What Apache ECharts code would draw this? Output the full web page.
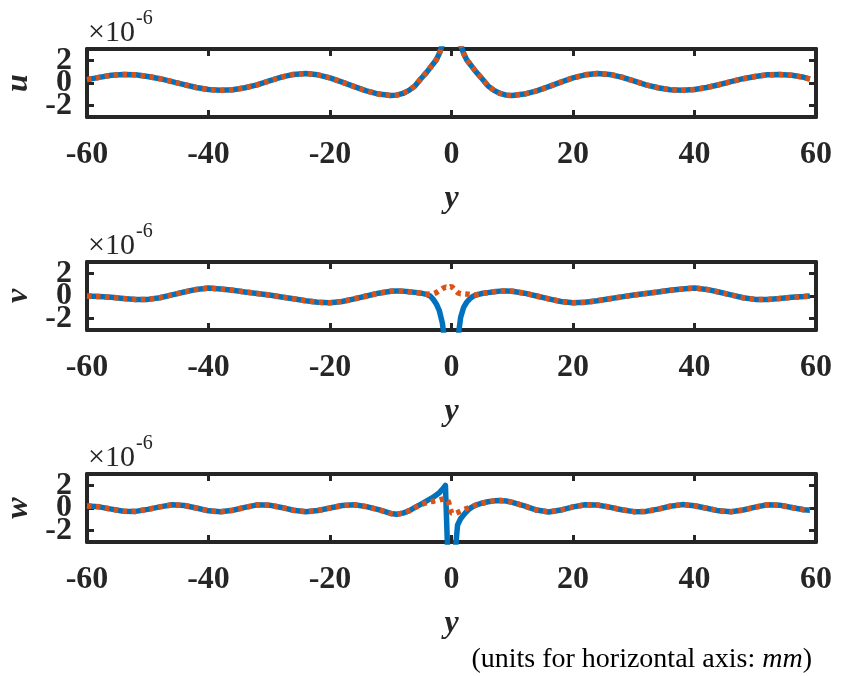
<!DOCTYPE html>
<html>
<head>
<meta charset="utf-8">
<script src="https://cdn.jsdelivr.net/npm/echarts@6/dist/echarts.min.js"></script>
<style>
  html, body { margin: 0; padding: 0; background: #ffffff; }
  #chart { width: 848px; height: 676px; }
</style>
</head>
<body>
<div id="chart"></div>
<script>
// Sample positions along y (mm), shared by the u, v and w profiles.
const yMm = [
  -60, -58, -56, -54, -52, -50, -48, -46, -44, -42, -40, -38, -36, -34, -32, -30, -28, -26, -24, -22,
  -20, -18, -16, -14, -12, -10, -9, -8, -7, -6, -5, -4, -3.5, -3, -2.5, -2, -1.5, -1, -0.5, 0,
  0.5, 1, 1.5, 2, 2.5, 3, 3.5, 4, 5, 6, 7, 8, 9, 10, 12, 14, 16, 18, 20, 22,
  24, 26, 28, 30, 32, 34, 36, 38, 40, 42, 44, 46, 48, 50, 52, 54, 56, 58, 59
];

// Displacements in units of 1e-6 (null = singular point at the source).
const uSolid = [
  0.30, 0.50, 0.68, 0.75, 0.72, 0.58, 0.38, 0.12, -0.15, -0.40, -0.58, -0.65, -0.60, -0.42, -0.16, 0.18, 0.52, 0.76, 0.83, 0.72,
  0.45, 0.08, -0.32, -0.70, -0.98, -1.10, -1.07, -0.92, -0.65, -0.25, 0.40, 1.00, 1.35, 1.70, 2.05, 2.60, 3.40, 5.50, 9.00, null,
  9.00, 5.50, 3.40, 2.60, 2.05, 1.70, 1.35, 1.00, 0.40, -0.25, -0.65, -0.92, -1.07, -1.10, -0.98, -0.70, -0.32, 0.08, 0.45, 0.72,
  0.83, 0.76, 0.52, 0.18, -0.16, -0.42, -0.60, -0.65, -0.58, -0.40, -0.15, 0.12, 0.38, 0.58, 0.72, 0.75, 0.68, 0.50, 0.35
];
const uDotted = [
  0.30, 0.50, 0.68, 0.75, 0.72, 0.58, 0.38, 0.12, -0.15, -0.40, -0.58, -0.65, -0.60, -0.42, -0.16, 0.18, 0.52, 0.76, 0.83, 0.72,
  0.45, 0.08, -0.32, -0.70, -0.98, -1.10, -1.07, -0.92, -0.65, -0.25, 0.40, 1.00, 1.35, 1.70, 2.05, 2.60, 3.40, 5.50, 9.00, null,
  9.00, 5.50, 3.40, 2.60, 2.05, 1.70, 1.35, 1.00, 0.40, -0.25, -0.65, -0.92, -1.07, -1.10, -0.98, -0.70, -0.32, 0.08, 0.45, 0.72,
  0.83, 0.76, 0.52, 0.18, -0.16, -0.42, -0.60, -0.65, -0.58, -0.40, -0.15, 0.12, 0.38, 0.58, 0.72, 0.75, 0.68, 0.50, 0.35
];

const vSolid = [
  0.00, -0.05, -0.12, -0.22, -0.30, -0.30, -0.15, 0.10, 0.35, 0.58, 0.70, 0.62, 0.50, 0.36, 0.22, 0.08, -0.08, -0.25, -0.42, -0.55,
  -0.60, -0.48, -0.25, 0.00, 0.25, 0.42, 0.45, 0.43, 0.38, 0.32, 0.25, 0.12, 0.00, -0.30, -0.70, -1.30, -2.40, -4.50, -8.00, null,
  -8.00, -4.00, -1.90, -1.00, -0.55, -0.25, -0.05, 0.08, 0.22, 0.30, 0.38, 0.43, 0.45, 0.42, 0.25, 0.00, -0.25, -0.48, -0.60, -0.55,
  -0.42, -0.25, -0.08, 0.08, 0.22, 0.36, 0.50, 0.62, 0.70, 0.58, 0.35, 0.10, -0.15, -0.30, -0.30, -0.22, -0.12, -0.05, 0.00
];
const vDotted = [
  0.00, -0.05, -0.12, -0.22, -0.30, -0.30, -0.15, 0.10, 0.35, 0.58, 0.70, 0.62, 0.50, 0.36, 0.22, 0.08, -0.08, -0.25, -0.42, -0.55,
  -0.60, -0.48, -0.25, 0.00, 0.25, 0.42, 0.45, 0.43, 0.38, 0.32, 0.25, 0.15, 0.18, 0.20, 0.30, 0.48, 0.65, 0.78, 0.70, 0.85,
  0.55, 0.30, 0.20, 0.20, 0.17, 0.15, 0.12, 0.10, 0.22, 0.30, 0.38, 0.43, 0.45, 0.42, 0.25, 0.00, -0.25, -0.48, -0.60, -0.55,
  -0.42, -0.25, -0.08, 0.08, 0.22, 0.36, 0.50, 0.62, 0.70, 0.58, 0.35, 0.10, -0.15, -0.30, -0.30, -0.22, -0.12, -0.05, 0.00
];

const wSolid = [
  0.18, 0.10, -0.10, -0.28, -0.30, -0.12, 0.10, 0.28, 0.22, 0.00, -0.25, -0.33, -0.20, 0.05, 0.28, 0.25, 0.05, -0.20, -0.33, -0.22,
  0.00, 0.22, 0.28, 0.12, -0.15, -0.48, -0.55, -0.45, -0.25, 0.05, 0.35, 0.65, 0.80, 0.95, 1.15, 1.35, 1.65, 2.00, -6.00, null,
  -4.50, -1.50, -0.95, -0.60, -0.30, -0.05, 0.12, 0.25, 0.42, 0.55, 0.63, 0.66, 0.62, 0.50, 0.18, -0.18, -0.35, -0.18, 0.10, 0.28,
  0.26, 0.08, -0.15, -0.32, -0.30, -0.10, 0.15, 0.30, 0.20, -0.02, -0.25, -0.33, -0.18, 0.08, 0.28, 0.25, 0.05, -0.15, -0.20
];
const wDotted = [
  0.18, 0.10, -0.10, -0.28, -0.30, -0.12, 0.10, 0.28, 0.22, 0.00, -0.25, -0.33, -0.20, 0.05, 0.28, 0.25, 0.05, -0.20, -0.33, -0.22,
  0.00, 0.22, 0.28, 0.12, -0.15, -0.48, -0.55, -0.45, -0.25, 0.05, 0.30, 0.50, 0.55, 0.60, 0.65, 0.70, 0.78, 0.82, 0.55, -0.45,
  -0.50, -0.40, -0.28, -0.15, -0.05, 0.05, 0.15, 0.25, 0.42, 0.55, 0.63, 0.66, 0.62, 0.50, 0.18, -0.18, -0.35, -0.18, 0.10, 0.28,
  0.26, 0.08, -0.15, -0.32, -0.30, -0.10, 0.15, 0.30, 0.20, -0.02, -0.25, -0.33, -0.18, 0.08, 0.28, 0.25, 0.05, -0.15, -0.20
];

// Axis ticks and labels
const xTickStep = 20;
const yTickValues = [-2, 0, 2];
const yOuterLabels = [-2, 2];
const yCentreLabel = [0];
const panelNames = ['u', 'v', 'w'];
const xName = 'y';
const scaleBase = '\u00d710';
const scaleExp = '-6';
const unitsPrefix = '(units for horizontal axis: ';
const unitsName = 'mm';
const unitsSuffix = ')';

const profiles = [
  { solid: uSolid, dotted: uDotted },
  { solid: vSolid, dotted: vDotted },
  { solid: wSolid, dotted: wDotted }
];

// Styling
const FONT = '"Liberation Serif", "Times New Roman", serif';
const INK = '#262626';
const BLUE = '#0072BD';
const ORANGE = '#D95319';
const panelTops = [49, 262, 474];
const gridLeft = 87, gridWidth = 729, gridHeight = 68;

function pairs(values) {
  return yMm.map((x, i) => [x, values[i]]);
}

const grids = [], xAxes = [], yAxes = [], series = [], graphics = [];
const frameLine = { color: INK, width: 4 };
const innerTick = { show: true, inside: true, length: 7, lineStyle: { color: INK, width: 3 } };
const tickFont = { fontFamily: FONT, fontWeight: 'bold', fontSize: 32, color: INK };
const nameFont = { fontFamily: FONT, fontWeight: 'bold', fontStyle: 'italic', fontSize: 32, color: INK };

profiles.forEach((p, i) => {
  grids.push({
    left: gridLeft, top: panelTops[i], width: gridWidth, height: gridHeight,
    containLabel: false, outerBoundsMode: 'none'
  });
  // bottom axis with labels, top axis as the mirrored frame edge
  xAxes.push({
    type: 'value', gridIndex: i, position: 'bottom', min: -60, max: 60, interval: xTickStep,
    axisLine: { show: true, onZero: false, lineStyle: frameLine },
    axisTick: innerTick,
    axisLabel: Object.assign({ show: true, margin: 22, hideOverlap: false,
                               showMinLabel: true, showMaxLabel: true }, tickFont),
    splitLine: { show: false },
    name: xName, nameLocation: 'middle', nameGap: 66, nameTextStyle: nameFont
  });
  xAxes.push({
    type: 'value', gridIndex: i, position: 'top', min: -60, max: 60, interval: xTickStep,
    axisLine: { show: true, onZero: false, lineStyle: frameLine },
    axisTick: innerTick,
    axisLabel: { show: false },
    splitLine: { show: false }
  });
  // left frame edge: ticks and the outer labels (+2 / -2)
  yAxes.push({
    type: 'value', gridIndex: i, position: 'left', min: -3, max: 3,
    axisLine: { show: true, onZero: false, lineStyle: frameLine },
    axisTick: Object.assign({ customValues: yTickValues }, innerTick),
    axisLabel: Object.assign({ show: true, margin: 15, hideOverlap: false,
                               showMinLabel: true, showMaxLabel: true,
                               customValues: yOuterLabels }, tickFont),
    splitLine: { show: false },
    name: panelNames[i], nameLocation: 'middle', nameRotate: 90, nameGap: 50, nameTextStyle: nameFont
  });
  // right frame edge
  yAxes.push({
    type: 'value', gridIndex: i, position: 'right', min: -3, max: 3,
    axisLine: { show: true, onZero: false, lineStyle: frameLine },
    axisTick: Object.assign({ customValues: yTickValues }, innerTick),
    axisLabel: { show: false },
    splitLine: { show: false }
  });
  // the "0" label sits between the crowded +2/-2 labels, so it gets its own axis
  yAxes.push({
    type: 'value', gridIndex: i, position: 'left', offset: 0, min: -3, max: 3,
    axisLine: { show: false, onZero: false },
    axisTick: { show: false },
    axisLabel: Object.assign({ show: true, margin: 15, hideOverlap: false,
                               showMinLabel: true, showMaxLabel: true,
                               customValues: yCentreLabel }, tickFont),
    splitLine: { show: false }
  });
  series.push({
    type: 'line', xAxisIndex: 2 * i, yAxisIndex: 3 * i, data: pairs(p.solid),
    showSymbol: false, symbol: 'none', clip: true, connectNulls: false, z: 3,
    lineStyle: { color: BLUE, width: 5.5, cap: 'butt', join: 'round' }
  });
  series.push({
    type: 'line', xAxisIndex: 2 * i, yAxisIndex: 3 * i, data: pairs(p.dotted),
    showSymbol: false, symbol: 'none', clip: true, connectNulls: false, z: 4,
    lineStyle: { color: ORANGE, width: 5.5, type: [4.5, 4.5], cap: 'butt' }
  });
  // x10^-6 exponent marker above each panel
  graphics.push({
    type: 'text', x: 88, y: panelTops[i] - 16,
    style: { text: scaleBase, font: '30px ' + FONT, fill: INK,
             align: 'left', verticalAlign: 'middle', textAlign: 'left', textVerticalAlign: 'middle' }
  });
  graphics.push({
    type: 'text', x: 136, y: panelTops[i] - 30,
    style: { text: scaleExp, font: '20px ' + FONT, fill: INK,
             align: 'left', verticalAlign: 'middle', textAlign: 'left', textVerticalAlign: 'middle' }
  });
});

// units note under the bottom panel
graphics.push({
  type: 'text', x: 812, y: 660,
  style: {
    text: '{r|' + unitsPrefix + '}{i|' + unitsName + '}{r|' + unitsSuffix + '}',
    align: 'right', verticalAlign: 'middle', textAlign: 'right', textVerticalAlign: 'middle',
    rich: {
      r: { fontFamily: FONT, fontSize: 28, fill: '#000000', color: '#000000' },
      i: { fontFamily: FONT, fontSize: 28, fontStyle: 'italic', fill: '#000000', color: '#000000' }
    }
  }
});

const chart = echarts.init(document.getElementById('chart'), null, { renderer: 'canvas' });
chart.setOption({
  animation: false,
  backgroundColor: '#ffffff',
  grid: grids,
  xAxis: xAxes,
  yAxis: yAxes,
  series: series,
  graphic: graphics
});
</script>
</body>
</html>
